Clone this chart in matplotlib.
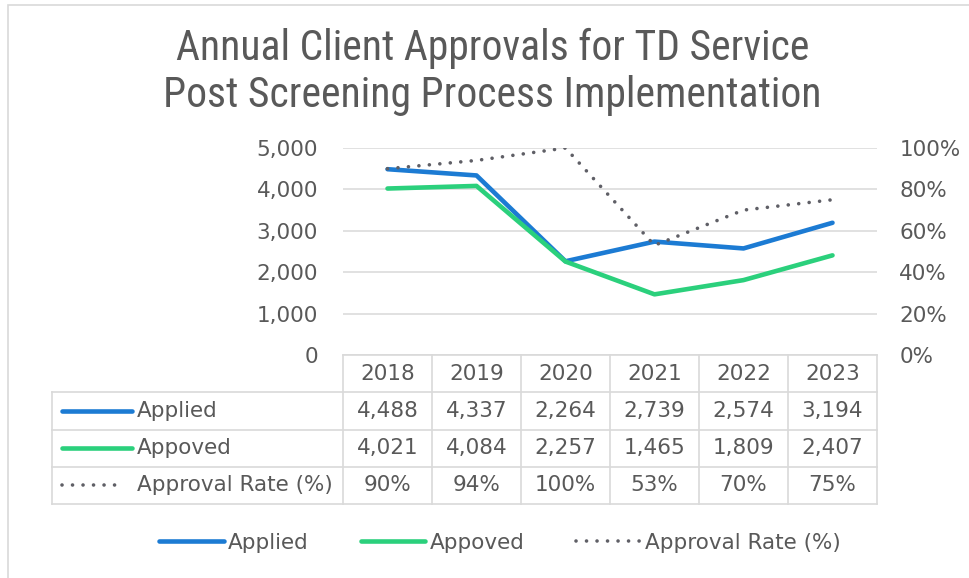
import matplotlib
matplotlib.use("Agg")
import matplotlib.pyplot as plt
from matplotlib.lines import Line2D
from matplotlib.patches import Rectangle
from matplotlib.ticker import FuncFormatter

# data
years = ['2018', '2019', '2020', '2021', '2022', '2023']
applied = [4488, 4337, 2264, 2739, 2574, 3194]
approved = [4021, 4084, 2257, 1465, 1809, 2407]
rate = [90, 94, 100, 53, 70, 75]
series_names = ['Applied', 'Appoved', 'Approval Rate (%)']

title = 'Annual Client Approvals for TD Service\nPost Screening Process Implementation'

BLUE = '#1C7BD3'
GREEN = '#2BD07C'
GREY = '#595959'
DOT = '#5F5F66'
GRID = '#D9D9D9'
FS = 15.5
DOTS = (0, (0.01, 2.9))

plt.rcParams['font.family'] = ['DejaVu Sans']

W, H = 969, 578
fig = plt.figure(figsize=(W / 100, H / 100), dpi=100)


def px_box(x0, y0, x1, y1):
    # pixel box (top-left origin) -> figure rect
    return [x0 / W, 1 - y1 / H, (x1 - x0) / W, (y1 - y0) / H]


# chart border
fig.patches.append(Rectangle((8 / W, -0.01), 1.0, 1 - 5 / H + 0.01, transform=fig.transFigure,
                             fill=False, edgecolor=GRID, lw=1.2))

fig.text(0.508, 1 - 72 / H, title, ha='center', va='center', fontsize=30, color=GREY,
         family=['Roboto Condensed', 'Liberation Sans Narrow', 'Lato', 'DejaVu Sans'],
         linespacing=1.2)

# main plot
ax = fig.add_axes(px_box(343, 148, 877, 355))
x = list(range(len(years)))
ax.plot(x, applied, color=BLUE, lw=3.3, solid_capstyle='round', zorder=3)
ax.plot(x, approved, color=GREEN, lw=3.3, solid_capstyle='round', zorder=3)
ax.set_xlim(-0.5, len(years) - 0.5)
ax.set_ylim(0, 5000)
ax.set_yticks(range(0, 5001, 1000))
ax.yaxis.set_major_formatter(FuncFormatter(lambda v, p: f'{int(v):,}'))
ax.set_xticks([])
ax.tick_params(axis='y', length=0, pad=18, labelsize=FS, labelcolor=GREY)
ax.grid(axis='y', color='#DCDCDC', lw=1.2, zorder=0)
ax.set_axisbelow(True)
for s in ax.spines.values():
    s.set_visible(False)

ax2 = ax.twinx()
ax2.plot(x, rate, color=DOT, lw=2.6, linestyle=DOTS, dash_capstyle='round', zorder=3)
ax2.set_ylim(0, 100)
ax2.set_yticks(range(0, 101, 20))
ax2.yaxis.set_major_formatter(FuncFormatter(lambda v, p: f'{int(v)}%'))
ax2.tick_params(axis='y', length=0, pad=16, labelsize=FS, labelcolor=GREY)
for s in ax2.spines.values():
    s.set_visible(False)

# data table
tax = fig.add_axes(px_box(52, 355, 877, 504))
left = -0.5 - (343 - 52) / 89
n = len(years)
tax.set_xlim(left, n - 0.5)
tax.set_ylim(4, 0)
tax.axis('off')

lw_t = 1.2
tax.plot([-0.5, n - 0.5], [0, 0], color=GRID, lw=lw_t, clip_on=False)
for r in range(1, 5):
    tax.plot([left, n - 0.5], [r, r], color=GRID, lw=lw_t, clip_on=False)
for c in range(n + 1):
    tax.plot([c - 0.5, c - 0.5], [0, 4], color=GRID, lw=lw_t, clip_on=False)
tax.plot([left, left], [1, 4], color=GRID, lw=lw_t, clip_on=False)

rows = [[f'{v:,}' for v in applied], [f'{v:,}' for v in approved], [f'{v}%' for v in rate]]
for i, yr in enumerate(years):
    tax.text(i, 0.5, yr, ha='center', va='center', fontsize=FS, color=GREY)
    for r, row in enumerate(rows):
        tax.text(i, r + 1.5, row[i], ha='center', va='center', fontsize=FS, color=GREY)

key_x0 = -0.5 - (343 - 62) / 89
key_x1 = -0.5 - (343 - 132) / 89
key_x1d = -0.5 - (343 - 124) / 89
text_x = -0.5 - (343 - 137) / 89
tax.plot([key_x0, key_x1], [1.5, 1.5], color=BLUE, lw=3.3, solid_capstyle='round')
tax.plot([key_x0, key_x1], [2.5, 2.5], color=GREEN, lw=3.3, solid_capstyle='round')
tax.plot([key_x0, key_x1d], [3.5, 3.5], color=DOT, lw=2.6, linestyle=DOTS,
         dash_capstyle='round')
for r, name in enumerate(series_names):
    tax.text(text_x, r + 1.5, name, ha='left', va='center', fontsize=FS, color=GREY)

# legend
handles = [Line2D([], [], color=BLUE, lw=3.3, solid_capstyle='round'),
           Line2D([], [], color=GREEN, lw=3.3, solid_capstyle='round'),
           Line2D([], [], color=DOT, lw=2.6, linestyle=DOTS, dash_capstyle='round')]
leg = fig.legend(handles, series_names, loc='center', bbox_to_anchor=(0.516, 1 - 543 / H),
                 ncol=3, frameon=False, fontsize=FS, handlelength=3.0, handletextpad=0.2,
                 columnspacing=2.4)
for t in leg.get_texts():
    t.set_color(GREY)

fig.savefig('out.png', dpi=100)
